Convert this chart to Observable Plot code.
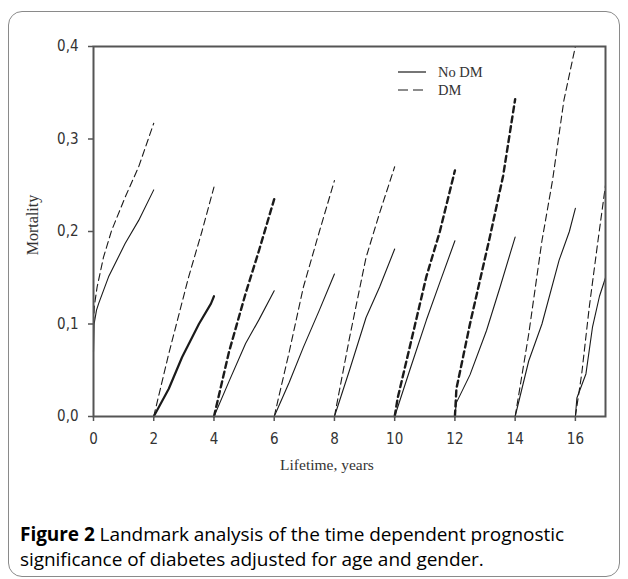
<!DOCTYPE html>
<html>
<head>
<meta charset="utf-8">
<script src="https://cdn.jsdelivr.net/npm/d3@7"></script>
<script src="https://cdn.jsdelivr.net/npm/@observablehq/plot@0.6"></script>
<style>
  html, body { margin: 0; padding: 0; background: #fff; }
  body { width: 628px; height: 579px; position: relative; overflow: hidden; }
  #box { position: absolute; left: 8px; top: 11px; width: 612px; height: 566px;
         border: 1.5px solid #8a8a8a; border-radius: 14px; box-sizing: border-box; }
  #chart { position: absolute; left: 0; top: 0; }
  #caption { position: absolute; left: 20px; top: 522px; width: 605px;
             font-family: "Open Sans", "Noto Sans", sans-serif; font-size: 19px;
             line-height: 25px; color: #000; letter-spacing: -0.05px; }
  #caption b { font-weight: 700; }
</style>
</head>
<body>
<div id="box"></div>
<div id="chart"></div>
<div id="caption"><b>Figure 2</b> Landmark analysis of the time dependent prognostic significance of diabetes adjusted for age and gender.</div>
<script>
// ---- data ----
const xTicks = [0, 2, 4, 6, 8, 10, 12, 14, 16];
const yTicks = [0, 0.1, 0.2, 0.3, 0.4];
const seriesNames = ["No DM", "DM"];
const xTitle = "Lifetime, years";
const yTitle = "Mortality";

const noDM_0 = [[0,0.07],[0.02,0.10],[0.1,0.115],[0.17,0.122],[0.5,0.151],[1.05,0.187],[1.5,0.212],[2,0.245]];
const DM_0   = [[0,0.10],[0.03,0.12],[0.12,0.14],[0.33,0.172],[0.6,0.201],[1.05,0.237],[1.5,0.27],[2,0.317]];
const noDM_2 = [[2,0],[2.5,0.03],[2.94,0.064],[3.5,0.1],[3.9,0.122],[4,0.13]];
const DM_2   = [[2,0],[2.5,0.068],[3.16,0.151],[3.6,0.2],[4,0.248]];
const noDM_4 = [[4,0],[4.5,0.038],[5.05,0.079],[5.5,0.105],[6,0.136]];
const DM_4   = [[4,0],[4.5,0.07],[5.05,0.133],[5.5,0.18],[6,0.235]];
const noDM_6 = [[6,0],[6.5,0.037],[6.97,0.075],[7.5,0.115],[8,0.154]];
const DM_6   = [[6,0],[6.5,0.07],[6.97,0.14],[7.5,0.2],[8,0.255]];
const noDM_8 = [[8,0],[8.5,0.05],[9.05,0.107],[9.5,0.14],[10,0.181]];
const DM_8   = [[8,0],[8.5,0.085],[9.05,0.172],[9.5,0.22],[10,0.27]];
const noDM_10 = [[10,0],[10.5,0.05],[11.05,0.104],[11.5,0.145],[12,0.19]];
const DM_10   = [[10,0],[10.1,0.02],[10.5,0.075],[11.05,0.151],[11.5,0.2],[12,0.266]];
const noDM_12 = [[12,0],[12.05,0.015],[12.5,0.045],[13.05,0.093],[13.5,0.14],[14,0.194]];
const DM_12   = [[12,0],[12.05,0.03],[12.5,0.1],[13.16,0.194],[13.6,0.26],[14,0.343]];
const noDM_14 = [[14,0],[14.45,0.06],[14.89,0.1],[15.46,0.169],[15.8,0.2],[16,0.225]];
const DM_14   = [[14,0],[14.45,0.089],[14.89,0.19],[15.24,0.255],[15.62,0.342],[16,0.4]];
const noDM_16 = [[16,0],[16.05,0.02],[16.35,0.046],[16.57,0.097],[16.8,0.13],[17,0.15]];
const DM_16   = [[16,0],[16.21,0.046],[16.46,0.118],[16.75,0.19],[17,0.25]];

const noDMCurves = [noDM_0, noDM_2, noDM_4, noDM_6, noDM_8, noDM_10, noDM_12, noDM_14, noDM_16];
const DMCurves   = [DM_0, DM_2, DM_4, DM_6, DM_8, DM_10, DM_12, DM_14, DM_16];

// ---- styles (separate from data) ----
const thickNoDM = new Set([1]);          // landmark index drawn with bold solid line
const thickDM = new Set([2, 5, 6]);      // landmark indices drawn with bold dashed line
const serif = "'Liberation Serif', 'Times New Roman', serif";
const tickFont = "'DejaVu Sans Condensed', 'DejaVu Sans', sans-serif";
const ink = "#1a1a1a";

const fmt = v => d3.format(".1f")(v).replace(".", ",");

const marks = [];
noDMCurves.forEach((c, i) => {
  marks.push(Plot.line(c, {x: d => d[0], y: d => d[1], stroke: ink,
    strokeWidth: thickNoDM.has(i) ? 2.2 : 1.1}));
});
DMCurves.forEach((c, i) => {
  marks.push(Plot.line(c, {x: d => d[0], y: d => d[1], stroke: ink,
    strokeWidth: thickDM.has(i) ? 2.4 : 1.1,
    strokeDasharray: thickDM.has(i) ? "6,4" : "7,4"}));
});

const chart = Plot.plot({
  width: 628,
  height: 490,
  marginLeft: 93,
  marginRight: 23,
  marginTop: 46,
  marginBottom: 74,
  style: {fontFamily: tickFont, fontSize: "15px", color: "#333", background: "transparent"},
  x: {domain: [0, 17], label: null},
  y: {domain: [0, 0.4], label: null},
  marks: [
    ...marks,
    Plot.frame({stroke: "#555", strokeWidth: 2}),
    Plot.axisX({ticks: xTicks, tickSize: 5, tickPadding: 12, stroke: "#555", strokeWidth: 1.5,
      fill: "#333", label: null}),
    Plot.axisY({ticks: yTicks, tickSize: 5, tickPadding: 10, tickFormat: fmt, stroke: "#555", strokeWidth: 1.5,
      fill: "#333", label: null})
  ]
});
document.getElementById("chart").appendChild(chart);

const svg = d3.select(chart);
svg.selectAll('g[aria-label="x-axis tick label"], g[aria-label="y-axis tick label"]')
  .style("font-size", "15px").style("font-family", tickFont);
svg.selectAll('g[aria-label="x-axis tick label"] text, g[aria-label="y-axis tick label"] text')
  .style("font-size", "15px").style("font-family", tickFont);

// axis titles
svg.append("text").attr("x", 327).attr("y", 470).attr("text-anchor", "middle")
  .style("font-family", serif).style("font-size", "15.5px").attr("fill", "#333").text(xTitle);
svg.append("text").attr("transform", "translate(38,225) rotate(-90)").attr("text-anchor", "middle")
  .style("font-family", serif).style("font-size", "16px").attr("fill", "#333").text(yTitle);

// legend
const lg = svg.append("g").attr("transform", "translate(398,72)");
seriesNames.forEach((name, i) => {
  const g = lg.append("g").attr("transform", `translate(0,${i * 18})`);
  g.append("line").attr("x1", 0).attr("x2", 28).attr("y1", 0).attr("y2", 0)
    .attr("stroke", ink).attr("stroke-width", 1.2)
    .attr("stroke-dasharray", i === 0 ? null : "10,5");
  g.append("text").attr("x", 40).attr("y", 5).attr("text-anchor", "start")
    .style("font-family", serif).style("font-size", "14.5px").attr("fill", "#333").text(name);
});
</script>
</body>
</html>
